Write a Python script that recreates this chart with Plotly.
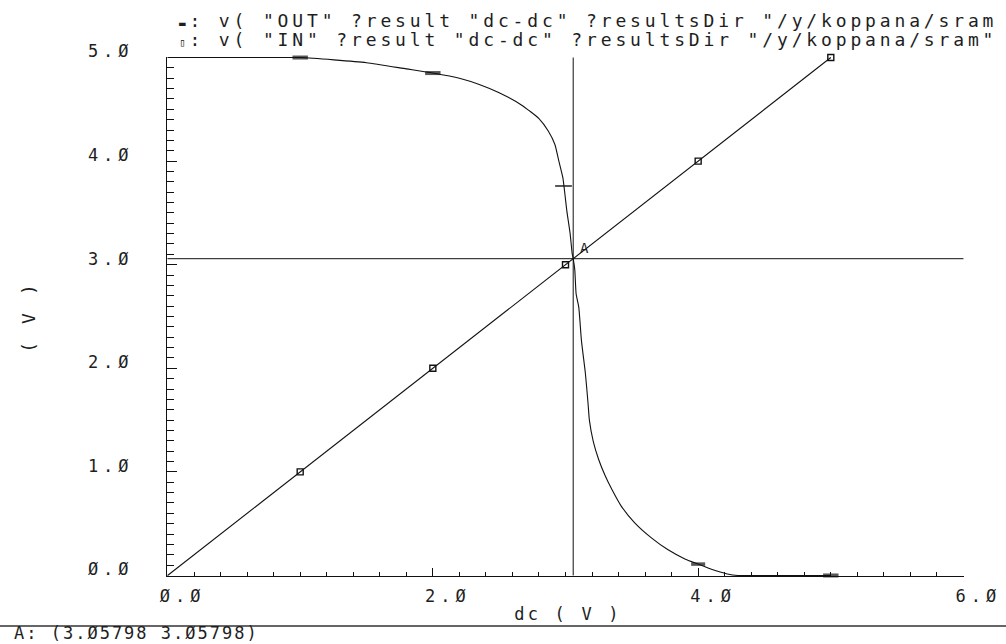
import json
import plotly.graph_objects as go

# DC transfer sweep of the inverter: output node vs. swept input (V)
out_x = [0.0, 0.5, 1.0, 1.5, 1.8, 2.0, 2.2, 2.35, 2.5, 2.67, 2.8, 2.87, 2.92,
         2.95, 2.98, 3.01, 3.035, 3.05, 3.058, 3.07, 3.08, 3.10, 3.12, 3.15,
         3.17, 3.18, 3.21, 3.25, 3.30, 3.35, 3.42, 3.52, 3.65, 3.77, 3.90,
         4.0, 4.10, 4.22, 4.30, 4.5, 5.0]
out_y = [5.0, 5.0, 5.0, 4.95, 4.89, 4.85, 4.80, 4.74, 4.66, 4.54, 4.41, 4.29,
         4.16, 4.00, 3.84, 3.52, 3.30, 3.11, 3.058, 2.95, 2.72, 2.59, 2.27,
         1.95, 1.66, 1.50, 1.29, 1.12, 0.96, 0.83, 0.67, 0.51, 0.36, 0.25,
         0.16, 0.11, 0.06, 0.015, 0.0, 0.0, 0.0]

# the swept input node itself
in_x = [0.0, 1.0, 2.0, 3.0, 4.0, 5.0]
in_y = [0.0, 1.0, 2.0, 3.0, 4.0, 5.0]

# trace symbols placed along each waveform
out_mark_x = [1.0, 2.0, 2.985, 4.0, 5.0]
out_mark_y = [5.0, 4.85, 3.76, 0.11, 0.0]
in_mark_x = [1.0, 2.0, 3.0, 4.0, 5.0]
in_mark_y = [1.0, 2.0, 3.0, 4.0, 5.0]

# crosshair cursor A
cursor_x = 3.05798
cursor_y = 3.05798

x_ticks = [0.0, 2.0, 4.0, 6.0]
y_ticks = [0.0, 1.0, 2.0, 3.0, 4.0, 5.0]

# legend lines (the first runs up to the window edge)
out_label = 'v( "OUT" ?result "dc-dc" ?resultsDir "/y/koppana/sram'
in_label = 'v( "IN" ?result "dc-dc" ?resultsDir "/y/koppana/sram"'


def slashed(v, fmt):
    """Format a number the way the waveform viewer prints it (slashed zeros)."""
    return format(v, fmt).replace("0", "\u00d8")


INK = "#111111"
TEXT = "#1e1e1e"
MONO = "DejaVu Sans Mono"

fig = go.Figure()

fig.add_trace(go.Scatter(x=out_x, y=out_y, mode="lines",
                         line=dict(color=INK, width=1.1, shape="spline",
                                   smoothing=0.5),
                         hoverinfo="skip"))
fig.add_trace(go.Scatter(x=in_x, y=in_y, mode="lines",
                         line=dict(color=INK, width=1.1), hoverinfo="skip"))
fig.add_trace(go.Scatter(
    x=out_mark_x, y=out_mark_y, mode="markers", cliponaxis=False,
    marker=dict(symbol="line-ew", size=[11, 11, 12, 10, 11], color=INK,
                line=dict(color=INK, width=[4, 4, 2, 3.5, 4])),
    hoverinfo="skip"))
fig.add_trace(go.Scatter(
    x=in_mark_x, y=in_mark_y, mode="markers", cliponaxis=False,
    marker=dict(symbol="square-open", size=6, color=INK,
                line=dict(color=INK, width=1.4)),
    hoverinfo="skip"))

# crosshair lines through cursor A
fig.add_shape(type="line", xref="x", yref="y", x0=cursor_x, x1=cursor_x,
              y0=0, y1=5, line=dict(color=INK, width=1))
fig.add_shape(type="line", xref="x", yref="y", x0=0, x1=6,
              y0=cursor_y, y1=cursor_y, line=dict(color=INK, width=1))
# separator above the cursor readout
fig.add_shape(type="line", xref="paper", yref="paper", x0=-0.25, x1=1.1,
              y0=-0.0963, y1=-0.0963, line=dict(color="#333333", width=1.5))

annotations = [
    dict(text='<span style="font-size:11px">\u25ac</span>: ' + out_label,
         x=0.0125, y=1.0694, xanchor="left", yanchor="middle",
         font=dict(size=18)),
    dict(text='<span style="font-size:11px">\u25af</span>: ' + in_label,
         x=0.0125, y=1.0328, xanchor="left", yanchor="middle",
         font=dict(size=18)),
    dict(text="dc ( V )", x=0.503, y=-0.0732, xanchor="center",
         yanchor="middle", font=dict(size=17)),
    dict(text="( V )", x=-0.174, y=0.5, xanchor="center", yanchor="middle",
         textangle=-90, font=dict(size=18)),
    dict(text="A: (" + slashed(cursor_x, ".5f") + " " + slashed(cursor_y, ".5f") + ")",
         x=-0.194, y=-0.1098, xanchor="left", yanchor="middle",
         font=dict(size=17)),
]
for a in annotations:
    a.update(xref="paper", yref="paper", showarrow=False)
    a["font"].update(family=MONO, color=TEXT)
    fig.add_annotation(**a)

fig.add_annotation(text="A", x=cursor_x, y=cursor_y, xref="x", yref="y",
                   showarrow=False, xshift=11, yshift=11,
                   font=dict(family=MONO, size=14, color=TEXT))

axis_common = dict(
    showline=True, linecolor=INK, linewidth=1, mirror=False,
    showgrid=False, zeroline=False, ticks="inside", tickcolor=INK,
    tickwidth=1, tickmode="array",
    tickfont=dict(family=MONO, size=17, color=TEXT),
)

fig.update_xaxes(
    **axis_common, range=[-0.004, 6.004], tickvals=x_ticks,
    ticktext=[slashed(v, ".1f") for v in x_ticks], ticklen=8,
    ticklabelstandoff=5, ticklabelshift=15,
    minor=dict(tickmode="linear", tick0=0, dtick=0.2, ticks="inside",
               ticklen=4, tickcolor=INK, tickwidth=1, showgrid=False),
)
fig.update_yaxes(
    **axis_common, range=[-0.005, 5.005], tickvals=y_ticks,
    ticktext=[slashed(v, ".1f") for v in y_ticks], ticklen=10,
    ticklabelstandoff=29, ticklabelshift=-6,
    minor=dict(tickmode="linear", tick0=0, dtick=0.1, ticks="inside",
               ticklen=7, tickcolor=INK, tickwidth=1, showgrid=False),
)

fig.update_layout(
    width=1006, height=644,
    margin=dict(l=167, r=39, t=57, b=68),
    plot_bgcolor="white", paper_bgcolor="white",
    showlegend=False,
    font=dict(family=MONO, size=17, color=TEXT),
)

# Widen the monospace lettering to the viewer's broad stroke-font pitch.
# Each entry: [extra letter spacing in px, edge of the text to hold fixed].
annotation_spacing = [[3.85, "start"], [3.85, "start"], [3.2, "middle"],
                      [3.6, "middle"], [2.0, "start"], [0, "middle"]]

post_js = """
var gd = document.getElementById('{plot_id}');
var annSpacing = __ANN__;
function spread(t, ls, keep) {
  if (!t || !ls) return;
  var b0 = t.getBBox();
  t.style.letterSpacing = ls + 'px';
  var b1 = t.getBBox();
  function ref(b) {
    if (keep === 'start') return b.x;
    if (keep === 'end') return b.x + b.width;
    return b.x + b.width / 2;
  }
  var dx = ref(b0) - ref(b1);
  var els = [t].concat(Array.prototype.slice.call(t.querySelectorAll('tspan')));
  els.forEach(function (e) {
    if (e.hasAttribute('x')) {
      e.setAttribute('x', parseFloat(e.getAttribute('x')) + dx);
    }
  });
}
gd.querySelectorAll('g.xtick text').forEach(function (t) { spread(t, 5, 'middle'); });
gd.querySelectorAll('g.ytick text').forEach(function (t) { spread(t, 5, 'end'); });
gd.querySelectorAll('g.annotation').forEach(function (g) {
  var i = parseInt(g.getAttribute('data-index'), 10);
  var cfg = annSpacing[i];
  if (cfg) spread(g.querySelector('text'), cfg[0], cfg[1]);
});
""".replace("__ANN__", json.dumps(annotation_spacing))

fig.write_html("out.html", post_script=post_js,
               config={"displayModeBar": False})
